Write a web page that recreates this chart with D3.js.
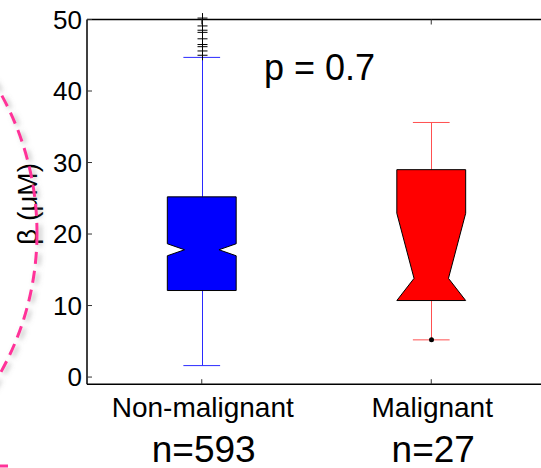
<!DOCTYPE html>
<html>
<head>
<meta charset="utf-8">
<script src="https://cdn.jsdelivr.net/npm/d3@7"></script>
<style>body{margin:0;background:#fff}</style>
</head>
<body>
<div id="canvas"></div>
<script>
"use strict"

/* Data */
let categories = ["Non-malignant", "Malignant"];
let counts = ["n=593", "n=27"];
let q1 = [12.1, 10.7];
let medians = [17.8, 13.8];
let q3 = [25.2, 29.0];
let notchHalf = [0.84, 9.1];
let whiskerLow = [1.6, 5.2];
let whiskerHigh = [44.7, 35.6];
let outliers = [[45.0, 45.6, 46.2, 46.5, 47.3, 48.2, 48.5, 49.1, 50.2], [5.2]];
let yTicks = [0, 10, 20, 30, 40, 50];
let pLabel = "p = 0.7";
let yLabel = "\u03b2 (\u03bcM)";

/* Drawing config */
let svgWidth = 541;
let svgHeight = 468;
let font = "'Liberation Sans', Arial, sans-serif";
let boxColors = ["#0000ff", "#ff0000"];
let whiskerColors = ["#2a2aff", "#ff5050"];
let outlierShapes = ["plus", "dot"];

let svg = d3.select("#canvas")
    .append("svg")
    .attr("width", svgWidth)
    .attr("height", svgHeight);

let xScale = d3.scaleLinear()
    .domain([0.5, 2.5])
    .range([87, 546]);

let yScale = d3.scaleLinear()
    .domain([-1, 50])
    .range([384.2, 19.5]);

let halfW = 0.15;

/* boxes with notches */
for (let i = 0; i < categories.length; i++) {
    let c = i + 1;
    let x0 = xScale(c - halfW), x1 = xScale(c + halfW);
    let n0 = xScale(c - halfW / 2), n1 = xScale(c + halfW / 2);
    let nHi = Math.min(medians[i] + notchHalf[i], q3[i]);
    let nLo = Math.max(medians[i] - notchHalf[i], q1[i]);
    let pts = [
        [x0, q3[i]], [x1, q3[i]], [x1, nHi], [n1, medians[i]], [x1, nLo],
        [x1, q1[i]], [x0, q1[i]], [x0, nLo], [n0, medians[i]], [x0, nHi]
    ];

    // whiskers
    let cx = Math.round(xScale(c)) + 0.5;
    let capL = xScale(c - 0.08), capR = xScale(c + 0.08);
    let wg = svg.append("g")
        .attr("stroke", whiskerColors[i])
        .attr("stroke-width", 1);
    wg.append("line")
        .attr("x1", cx).attr("x2", cx)
        .attr("y1", yScale(q3[i])).attr("y2", yScale(whiskerHigh[i]));
    wg.append("line")
        .attr("x1", cx).attr("x2", cx)
        .attr("y1", yScale(q1[i])).attr("y2", yScale(whiskerLow[i]));
    wg.append("line")
        .attr("x1", capL).attr("x2", capR)
        .attr("y1", yScale(whiskerHigh[i])).attr("y2", yScale(whiskerHigh[i]));
    wg.append("line")
        .attr("x1", capL).attr("x2", capR)
        .attr("y1", yScale(whiskerLow[i])).attr("y2", yScale(whiskerLow[i]));

    svg.append("path")
        .attr("d", d3.line().x(d => d[0]).y(d => yScale(d[1]))(pts) + "Z")
        .attr("fill", boxColors[i])
        .attr("stroke", "black")
        .attr("stroke-width", 1);

    // outliers
    for (let v of outliers[i]) {
        let oy = yScale(v);
        if (outlierShapes[i] === "plus") {
            svg.append("path")
                .attr("d", `M${cx - 5},${oy}H${cx + 5}M${cx},${oy - 5}V${oy + 5}`)
                .attr("stroke", "black")
                .attr("stroke-width", 1);
        } else {
            svg.append("circle")
                .attr("cx", cx).attr("cy", oy)
                .attr("r", 2.5)
                .attr("fill", "black");
        }
    }
}

/* axes lines */
svg.append("line")
    .attr("x1", 87).attr("x2", svgWidth)
    .attr("y1", yScale(50)).attr("y2", yScale(50))
    .attr("stroke", "black").attr("stroke-width", 1.5);
svg.append("line")
    .attr("x1", 87).attr("x2", svgWidth)
    .attr("y1", yScale(-1)).attr("y2", yScale(-1))
    .attr("stroke", "black").attr("stroke-width", 1.5);
svg.append("line")
    .attr("x1", 87).attr("x2", 87)
    .attr("y1", yScale(50)).attr("y2", yScale(-1))
    .attr("stroke", "black").attr("stroke-width", 1.5);

/* y ticks */
for (let t of yTicks) {
    svg.append("line")
        .attr("x1", 87).attr("x2", 92)
        .attr("y1", yScale(t)).attr("y2", yScale(t))
        .attr("stroke", "#333").attr("stroke-width", 1);
    svg.append("text")
        .attr("x", 82)
        .attr("y", yScale(t))
        .attr("text-anchor", "end")
        .attr("dominant-baseline", "central")
        .attr("font-family", font)
        .attr("font-size", 26)
        .text(t);
}

/* x ticks and labels */
for (let i = 0; i < categories.length; i++) {
    let cx = xScale(i + 1);
    svg.append("line")
        .attr("x1", cx).attr("x2", cx)
        .attr("y1", yScale(-1)).attr("y2", yScale(-1) - 5)
        .attr("stroke", "#333");
    svg.append("line")
        .attr("x1", cx).attr("x2", cx)
        .attr("y1", yScale(50)).attr("y2", yScale(50) + 5)
        .attr("stroke", "#333");
    svg.append("text")
        .attr("x", cx + 1)
        .attr("y", 417)
        .attr("text-anchor", "middle")
        .attr("font-family", font)
        .attr("font-size", 28)
        .text(categories[i]);
    svg.append("text")
        .attr("x", cx + 2)
        .attr("y", 462)
        .attr("text-anchor", "middle")
        .attr("font-family", font)
        .attr("font-size", 37)
        .text(counts[i]);
}

/* p-value */
svg.append("text")
    .attr("x", 264)
    .attr("y", 80)
    .attr("font-family", font)
    .attr("font-size", 36)
    .text(pLabel);

/* y axis label */
svg.append("text")
    .attr("transform", "translate(37,204) rotate(-90)")
    .attr("text-anchor", "middle")
    .attr("font-family", font)
    .attr("font-size", 28)
    .text(yLabel);

/* pink dashed highlight circle with soft shadow */
let defs = svg.append("defs");
defs.append("filter")
    .attr("id", "shadow")
    .attr("x", "-20%").attr("y", "-20%")
    .attr("width", "140%").attr("height", "140%")
    .append("feDropShadow")
    .attr("dx", 3).attr("dy", 2)
    .attr("stdDeviation", 2.5)
    .attr("flood-color", "#777")
    .attr("flood-opacity", 0.5);

svg.append("circle")
    .attr("cx", -249)
    .attr("cy", 233)
    .attr("r", 286)
    .attr("fill", "none")
    .attr("stroke", "#ff3399")
    .attr("stroke-width", 3)
    .attr("stroke-dasharray", "12,7")
    .attr("filter", "url(#shadow)");

svg.append("line")
    .attr("x1", 0).attr("x2", 8)
    .attr("y1", 466).attr("y2", 466)
    .attr("stroke", "#ff3399")
    .attr("stroke-width", 3);
</script>
</body>
</html>
